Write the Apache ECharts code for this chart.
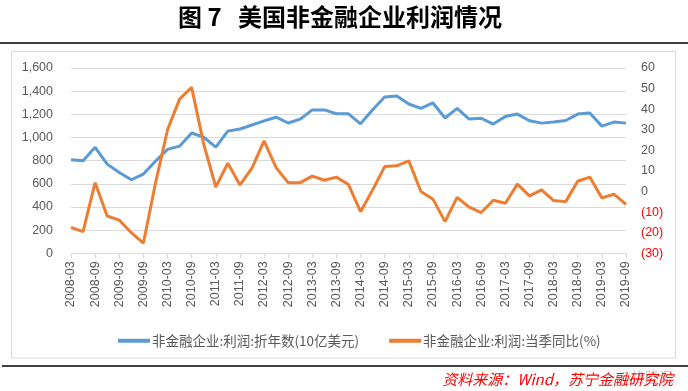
<!DOCTYPE html>
<html>
<head>
<meta charset="utf-8">
<script src="https://cdn.jsdelivr.net/npm/echarts@6/dist/echarts.min.js"></script>
<style>
html,body{margin:0;padding:0;background:#fff;}
#c{width:688px;height:391px;}
</style>
</head>
<body>
<div id="c"></div>
<script>
const categories = [
 '2008-03','2008-06','2008-09','2008-12','2009-03','2009-06','2009-09','2009-12',
 '2010-03','2010-06','2010-09','2010-12','2011-03','2011-06','2011-09','2011-12',
 '2012-03','2012-06','2012-09','2012-12','2013-03','2013-06','2013-09','2013-12',
 '2014-03','2014-06','2014-09','2014-12','2015-03','2015-06','2015-09','2015-12',
 '2016-03','2016-06','2016-09','2016-12','2017-03','2017-06','2017-09','2017-12',
 '2018-03','2018-06','2018-09','2018-12','2019-03','2019-06','2019-09'
];
const profitAnnualized = [
 807, 799, 915, 770, 698, 635, 684, 795,
 897, 925, 1039, 1002, 917, 1055, 1073, 1108,
 1143, 1175, 1125, 1159, 1238, 1238, 1205, 1204,
 1118, 1240, 1349, 1358, 1289, 1251, 1298, 1168,
 1251, 1159, 1166, 1116, 1182, 1202, 1144, 1124,
 1133, 1147, 1202, 1211, 1098, 1133, 1124
];
const profitYoY = [
 -17.4, -19.5, 4.3, -11.9, -13.9, -20.0, -25.1, 4.0,
 30.0, 44.9, 50.6, 23.0, 2.2, 13.8, 3.2, 11.4,
 24.6, 11.6, 4.3, 4.3, 7.5, 5.5, 7.0, 3.4,
 -9.8, 0.8, 12.1, 12.5, 14.9, 0.0, -3.7, -14.6,
 -2.8, -7.6, -10.2, -4.2, -5.7, 3.6, -2.1, 0.8,
 -4.4, -4.9, 5.0, 7.0, -3.1, -1.3, -6.2
];
const seriesNames = ['非金融企业:利润:折年数(10亿美元)', '非金融企业:利润:当季同比(%)'];
const titleText = '图 7   美国非金融企业利润情况';
const sourceText = '资料来源：Wind，苏宁金融研究院';

const chart = echarts.init(document.getElementById('c'), null, {renderer: 'canvas'});
const axisFont = 'Liberation Sans, Arial, sans-serif';
const cjk = '"Noto Sans CJK SC", sans-serif';

chart.setOption({
  animation: false,
  backgroundColor: '#fff',
  graphic: [
    {type: 'text', left: 178, top: 5, style: {text: titleText, font: 'bold 24px ' + cjk, fill: '#000'}},
    {type: 'line', shape: {x1: 0, y1: 43, x2: 688, y2: 43}, style: {stroke: '#000', lineWidth: 1.5}},
    {type: 'rect', shape: {x: 11.5, y: 51.5, width: 664, height: 306.5}, style: {fill: 'none', stroke: '#d9d9d9', lineWidth: 1}},
    {type: 'line', shape: {x1: 2, y1: 366, x2: 688, y2: 366}, style: {stroke: '#000', lineWidth: 1.5}},
    {type: 'text', right: 15, top: 370, style: {text: '@格隆汇', font: '14px ' + cjk, fill: '#cccccc'}},
    {type: 'text', right: 15, top: 372, style: {text: sourceText, font: 'italic 15px ' + cjk, fill: '#ff0000'}}
  ],
  legend: {
    left: 113, top: 329,
    itemWidth: 32, itemHeight: 4, itemGap: 30,
    icon: 'rect',
    textStyle: {fontFamily: cjk, fontSize: 13.5, color: '#595959', padding: [0,0,0,-3]},
    data: seriesNames
  },
  grid: {left: 71, right: 62, top: 68, height: 185.3, containLabel: false},
  xAxis: {
    type: 'category',
    data: categories,
    boundaryGap: false,
    axisLine: {lineStyle: {color: '#d9d9d9', width: 1}},
    axisTick: {show: true, interval: 1, length: 5, lineStyle: {color: '#d9d9d9'}},
    axisLabel: {interval: 1, rotate: 90, margin: 8, color: '#595959', fontFamily: axisFont, fontSize: 12.5},
    splitLine: {show: false}
  },
  yAxis: [
    {
      type: 'value', min: 0, max: 1600, interval: 200,
      axisLine: {show: false}, axisTick: {show: false},
      splitLine: {lineStyle: {color: '#d9d9d9', width: 1}},
      axisLabel: {margin: 18, color: '#595959', fontFamily: axisFont, fontSize: 12.5,
        formatter: v => v.toLocaleString('en-US')}
    },
    {
      type: 'value', min: -30, max: 60, interval: 10,
      axisLine: {show: false}, axisTick: {show: false},
      splitLine: {show: false},
      axisLabel: {margin: 15, fontFamily: axisFont, fontSize: 12.5,
        color: v => (Number(v) < 0 ? '#ff0000' : '#595959'),
        formatter: v => (v < 0 ? '(' + Math.abs(v) + ')' : String(v))}
    }
  ],
  series: [
    {name: seriesNames[0], type: 'line', yAxisIndex: 0, data: profitAnnualized, showSymbol: false,
     lineStyle: {color: '#5B9BD5', width: 3}, itemStyle: {color: '#5B9BD5'}},
    {name: seriesNames[1], type: 'line', yAxisIndex: 1, data: profitYoY, showSymbol: false,
     lineStyle: {color: '#ED7D31', width: 3}, itemStyle: {color: '#ED7D31'}}
  ]
});
</script>
</body>
</html>
